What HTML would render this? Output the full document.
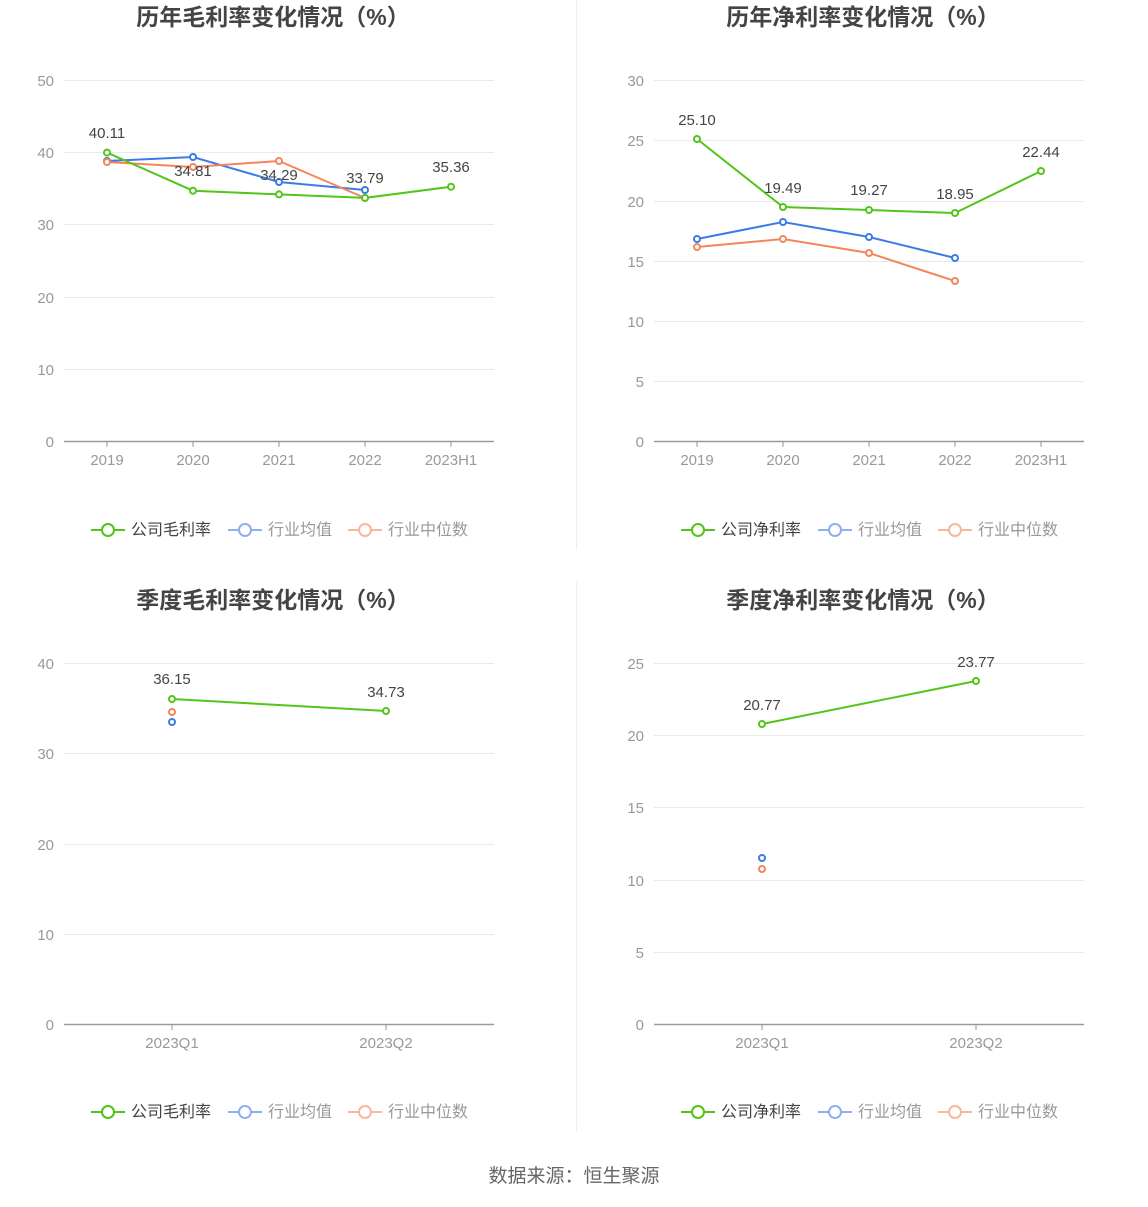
<!DOCTYPE html>
<html><head><meta charset="utf-8"><style>
body{margin:0;background:#fff;}
text{font-family:"Liberation Sans","Noto Sans CJK SC",sans-serif;}
</style></head><body>
<svg width="1148" height="1202" viewBox="0 0 1148 1202" xmlns="http://www.w3.org/2000/svg">
<line x1="576.5" y1="0" x2="576.5" y2="550" stroke="#eee"/>
<line x1="576.5" y1="582" x2="576.5" y2="1132" stroke="#eee"/>
<g font-size="23" font-weight="bold" fill="#444" text-anchor="middle">
<text x="273" y="25">历年毛利率变化情况（%）</text>
<text x="863" y="25">历年净利率变化情况（%）</text>
<text x="273" y="608">季度毛利率变化情况（%）</text>
<text x="863" y="608">季度净利率变化情况（%）</text>
</g>
<g stroke="#e8e8f0" stroke-width="1">
<line x1="64" y1="80.5" x2="494" y2="80.5"/><line x1="64" y1="152.5" x2="494" y2="152.5"/><line x1="64" y1="224.5" x2="494" y2="224.5"/><line x1="64" y1="297.5" x2="494" y2="297.5"/><line x1="64" y1="369.5" x2="494" y2="369.5"/>
<line x1="654" y1="80.5" x2="1084" y2="80.5"/><line x1="654" y1="140.5" x2="1084" y2="140.5"/><line x1="654" y1="201.5" x2="1084" y2="201.5"/><line x1="654" y1="261.5" x2="1084" y2="261.5"/><line x1="654" y1="321.5" x2="1084" y2="321.5"/><line x1="654" y1="381.5" x2="1084" y2="381.5"/>
<line x1="64" y1="663.5" x2="494" y2="663.5"/><line x1="64" y1="753.5" x2="494" y2="753.5"/><line x1="64" y1="844.5" x2="494" y2="844.5"/><line x1="64" y1="934.5" x2="494" y2="934.5"/>
<line x1="654" y1="663.5" x2="1084" y2="663.5"/><line x1="654" y1="735.5" x2="1084" y2="735.5"/><line x1="654" y1="807.5" x2="1084" y2="807.5"/><line x1="654" y1="880.5" x2="1084" y2="880.5"/><line x1="654" y1="952.5" x2="1084" y2="952.5"/>
</g>
<g stroke="#999" stroke-width="1.5">
<line x1="64" y1="441.5" x2="494" y2="441.5"/><line x1="654" y1="441.5" x2="1084" y2="441.5"/>
<line x1="64" y1="1024.5" x2="494" y2="1024.5"/><line x1="654" y1="1024.5" x2="1084" y2="1024.5"/>
</g>
<g stroke="#999" stroke-width="1">
<line x1="107" y1="441" x2="107" y2="447"/><line x1="193" y1="441" x2="193" y2="447"/><line x1="279" y1="441" x2="279" y2="447"/><line x1="365" y1="441" x2="365" y2="447"/><line x1="451" y1="441" x2="451" y2="447"/>
<line x1="697" y1="441" x2="697" y2="447"/><line x1="783" y1="441" x2="783" y2="447"/><line x1="869" y1="441" x2="869" y2="447"/><line x1="955" y1="441" x2="955" y2="447"/><line x1="1041" y1="441" x2="1041" y2="447"/>
<line x1="172" y1="1024" x2="172" y2="1030"/><line x1="386" y1="1024" x2="386" y2="1030"/>
<line x1="762" y1="1024" x2="762" y2="1030"/><line x1="976" y1="1024" x2="976" y2="1030"/>
</g>
<g font-size="15" fill="#999" text-anchor="end">
<text x="54" y="86">50</text><text x="54" y="158">40</text><text x="54" y="230">30</text><text x="54" y="303">20</text><text x="54" y="375">10</text><text x="54" y="447">0</text>
<text x="644" y="86">30</text><text x="644" y="146">25</text><text x="644" y="207">20</text><text x="644" y="267">15</text><text x="644" y="327">10</text><text x="644" y="387">5</text><text x="644" y="447">0</text>
<text x="54" y="669">40</text><text x="54" y="759">30</text><text x="54" y="850">20</text><text x="54" y="940">10</text><text x="54" y="1030">0</text>
<text x="644" y="669">25</text><text x="644" y="741">20</text><text x="644" y="813">15</text><text x="644" y="886">10</text><text x="644" y="958">5</text><text x="644" y="1030">0</text>
</g>
<g font-size="15" fill="#999" text-anchor="middle">
<text x="107" y="465">2019</text><text x="193" y="465">2020</text><text x="279" y="465">2021</text><text x="365" y="465">2022</text><text x="451" y="465">2023H1</text>
<text x="697" y="465">2019</text><text x="783" y="465">2020</text><text x="869" y="465">2021</text><text x="955" y="465">2022</text><text x="1041" y="465">2023H1</text>
<text x="172" y="1048">2023Q1</text><text x="386" y="1048">2023Q2</text>
<text x="762" y="1048">2023Q1</text><text x="976" y="1048">2023Q2</text>
</g>
<g fill="#fff" stroke-width="2">
<polyline points="107,161 193,157 279,182 365,190" fill="none" stroke="#3b7be8"/>
<polyline points="107,162 193,167 279,161 365,198" fill="none" stroke="#f5855a"/>
<polyline points="107,152.6 193,190.7 279,194.4 365,197.9 451,186.7" fill="none" stroke="#52c41a"/>
<g stroke="#3b7be8"><circle cx="107" cy="161" r="3"/><circle cx="193" cy="157" r="3"/><circle cx="279" cy="182" r="3"/><circle cx="365" cy="190" r="3"/></g>
<g stroke="#f5855a"><circle cx="107" cy="162" r="3"/><circle cx="193" cy="167" r="3"/><circle cx="279" cy="161" r="3"/><circle cx="365" cy="198" r="3"/></g>
<g stroke="#52c41a"><circle cx="107" cy="152.6" r="3"/><circle cx="193" cy="190.7" r="3"/><circle cx="279" cy="194.4" r="3"/><circle cx="365" cy="197.9" r="3"/><circle cx="451" cy="186.7" r="3"/></g>

<polyline points="697,239 783,222 869,237 955,258" fill="none" stroke="#3b7be8"/>
<polyline points="697,247 783,239 869,253 955,281" fill="none" stroke="#f5855a"/>
<polyline points="697,139 783,207 869,210 955,213 1041,171" fill="none" stroke="#52c41a"/>
<g stroke="#3b7be8"><circle cx="697" cy="239" r="3"/><circle cx="783" cy="222" r="3"/><circle cx="869" cy="237" r="3"/><circle cx="955" cy="258" r="3"/></g>
<g stroke="#f5855a"><circle cx="697" cy="247" r="3"/><circle cx="783" cy="239" r="3"/><circle cx="869" cy="253" r="3"/><circle cx="955" cy="281" r="3"/></g>
<g stroke="#52c41a"><circle cx="697" cy="139" r="3"/><circle cx="783" cy="207" r="3"/><circle cx="869" cy="210" r="3"/><circle cx="955" cy="213" r="3"/><circle cx="1041" cy="171" r="3"/></g>

<polyline points="172,699 386,711" fill="none" stroke="#52c41a"/>
<circle cx="172" cy="722" r="3" stroke="#3b7be8"/><circle cx="172" cy="712" r="3" stroke="#f5855a"/>
<circle cx="172" cy="699" r="3" stroke="#52c41a"/><circle cx="386" cy="711" r="3" stroke="#52c41a"/>

<polyline points="762,724 976,681" fill="none" stroke="#52c41a"/>
<circle cx="762" cy="858" r="3" stroke="#3b7be8"/><circle cx="762" cy="869" r="3" stroke="#f5855a"/>
<circle cx="762" cy="724" r="3" stroke="#52c41a"/><circle cx="976" cy="681" r="3" stroke="#52c41a"/>
</g>
<g font-size="15" fill="#444" text-anchor="middle">
<text x="107" y="138">40.11</text><text x="193" y="176">34.81</text><text x="279" y="180">34.29</text><text x="365" y="183">33.79</text><text x="451" y="172">35.36</text>
<text x="697" y="125">25.10</text><text x="783" y="193">19.49</text><text x="869" y="195">19.27</text><text x="955" y="199">18.95</text><text x="1041" y="157">22.44</text>
<text x="172" y="684">36.15</text><text x="386" y="697">34.73</text>
<text x="762" y="710">20.77</text><text x="976" y="667">23.77</text>
</g>
<g font-size="16" fill="#666">
<g fill="#fff" stroke-width="2">
<line x1="91" y1="530" x2="125" y2="530" stroke="#52c41a"/><circle cx="108" cy="530" r="6" stroke="#52c41a"/>
<line x1="228" y1="530" x2="262" y2="530" stroke="#8fb0f0"/><circle cx="245" cy="530" r="6" stroke="#8fb0f0"/>
<line x1="348" y1="530" x2="382" y2="530" stroke="#f8b89e"/><circle cx="365" cy="530" r="6" stroke="#f8b89e"/>
</g>
<text x="131" y="535" fill="#444">公司毛利率</text><text x="268" y="535" fill="#999">行业均值</text><text x="388" y="535" fill="#999">行业中位数</text>
<g fill="#fff" stroke-width="2">
<line x1="681" y1="530" x2="715" y2="530" stroke="#52c41a"/><circle cx="698" cy="530" r="6" stroke="#52c41a"/>
<line x1="818" y1="530" x2="852" y2="530" stroke="#8fb0f0"/><circle cx="835" cy="530" r="6" stroke="#8fb0f0"/>
<line x1="938" y1="530" x2="972" y2="530" stroke="#f8b89e"/><circle cx="955" cy="530" r="6" stroke="#f8b89e"/>
</g>
<text x="721" y="535" fill="#444">公司净利率</text><text x="858" y="535" fill="#999">行业均值</text><text x="978" y="535" fill="#999">行业中位数</text>
<g fill="#fff" stroke-width="2">
<line x1="91" y1="1112" x2="125" y2="1112" stroke="#52c41a"/><circle cx="108" cy="1112" r="6" stroke="#52c41a"/>
<line x1="228" y1="1112" x2="262" y2="1112" stroke="#8fb0f0"/><circle cx="245" cy="1112" r="6" stroke="#8fb0f0"/>
<line x1="348" y1="1112" x2="382" y2="1112" stroke="#f8b89e"/><circle cx="365" cy="1112" r="6" stroke="#f8b89e"/>
</g>
<text x="131" y="1117" fill="#444">公司毛利率</text><text x="268" y="1117" fill="#999">行业均值</text><text x="388" y="1117" fill="#999">行业中位数</text>
<g fill="#fff" stroke-width="2">
<line x1="681" y1="1112" x2="715" y2="1112" stroke="#52c41a"/><circle cx="698" cy="1112" r="6" stroke="#52c41a"/>
<line x1="818" y1="1112" x2="852" y2="1112" stroke="#8fb0f0"/><circle cx="835" cy="1112" r="6" stroke="#8fb0f0"/>
<line x1="938" y1="1112" x2="972" y2="1112" stroke="#f8b89e"/><circle cx="955" cy="1112" r="6" stroke="#f8b89e"/>
</g>
<text x="721" y="1117" fill="#444">公司净利率</text><text x="858" y="1117" fill="#999">行业均值</text><text x="978" y="1117" fill="#999">行业中位数</text>
</g>
<text x="574" y="1182" font-size="19" fill="#666" text-anchor="middle">数据来源：恒生聚源</text>
</svg>
</body></html>
